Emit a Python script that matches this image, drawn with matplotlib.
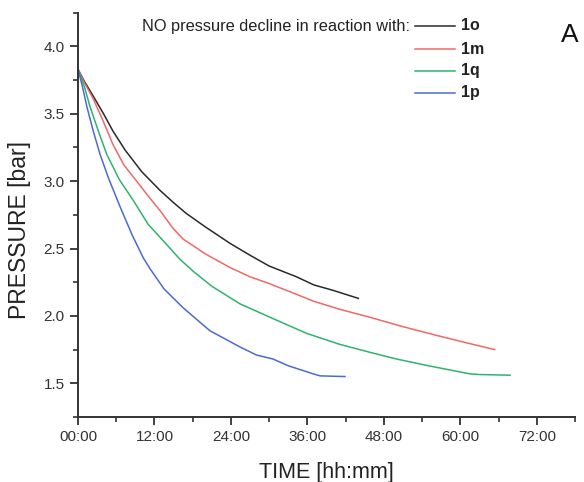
import matplotlib
matplotlib.use("Agg")
import matplotlib.pyplot as plt
from matplotlib.ticker import FuncFormatter, MultipleLocator

plt.rcParams['font.family'] = ['Liberation Sans', 'DejaVu Sans']

# Reaction time in hours, pressure in bar
t_1o = [0, 1, 2.4, 4.0, 5.5, 7.4, 10, 12.9, 15, 17.0, 20, 23.8, 27, 30, 34.3, 37, 40, 44]
p_1o = [3.83, 3.74, 3.63, 3.50, 3.37, 3.23, 3.07, 2.93, 2.84, 2.76, 2.66, 2.54, 2.45, 2.37, 2.29, 2.23, 2.19, 2.13]

t_1m = [0, 1, 2.4, 4, 5.5, 7.2, 9.2, 11, 12.9, 14.9, 16.5, 20, 23.8, 27, 30, 34.3, 36.9, 41, 45.8, 51, 56.3, 61, 65.4]
p_1m = [3.83, 3.73, 3.61, 3.44, 3.27, 3.12, 3.00, 2.89, 2.78, 2.65, 2.57, 2.46, 2.36, 2.29, 2.24, 2.16, 2.11, 2.05, 1.99, 1.92, 1.855, 1.80, 1.75]

t_1q = [0, 1, 1.9, 3.2, 4.5, 6.5, 8.7, 11, 13.9, 16, 18.1, 21, 25.4, 30.6, 35.9, 41, 45.8, 50, 55, 61.5, 63, 67.8]
p_1q = [3.83, 3.70, 3.55, 3.37, 3.20, 3.01, 2.855, 2.68, 2.53, 2.42, 2.33, 2.22, 2.09, 1.98, 1.87, 1.79, 1.73, 1.68, 1.63, 1.57, 1.565, 1.56]

t_1p = [0, 0.7, 1.4, 2.4, 3.45, 4.8, 6.6, 8.5, 10.25, 11.3, 13.5, 16.5, 20.7, 25.4, 28, 30.6, 33, 36.9, 38, 41.9]
p_1p = [3.83, 3.70, 3.55, 3.37, 3.20, 3.02, 2.81, 2.60, 2.43, 2.35, 2.20, 2.06, 1.89, 1.77, 1.71, 1.68, 1.63, 1.57, 1.555, 1.55]

series = [
    ("1o", t_1o, p_1o, "#2a2a2a"),
    ("1m", t_1m, p_1m, "#f06868"),
    ("1q", t_1q, p_1q, "#2fb36e"),
    ("1p", t_1p, p_1p, "#4a6cd0"),
]

fig = plt.figure(figsize=(5.84, 4.82), dpi=100)
ax = fig.add_axes([0.1336, 0.1349, 0.851, 0.8388])

for name, t, p, c in series:
    ax.plot(t, p, color=c, lw=1.1, solid_joinstyle="round")

ax.set_xlim(0, 78)
ax.set_ylim(1.25, 4.25)

ax.xaxis.set_major_locator(MultipleLocator(12))
ax.xaxis.set_minor_locator(MultipleLocator(6))
ax.yaxis.set_major_locator(MultipleLocator(0.5))
ax.yaxis.set_minor_locator(MultipleLocator(0.25))
ax.xaxis.set_major_formatter(FuncFormatter(lambda v, pos: f"{int(round(v)):02d}:00"))
ax.yaxis.set_major_formatter(FuncFormatter(lambda v, pos: f"{v:.1f}"))

for side in ("top", "right"):
    ax.spines[side].set_visible(False)
for side in ("left", "bottom"):
    ax.spines[side].set_linewidth(1.4)
    ax.spines[side].set_color("#333333")

ax.tick_params(which="major", direction="out", length=6, width=1.3, colors="#333333",
               labelsize=11, labelcolor="#333333")
ax.tick_params(which="minor", direction="out", length=3.5, width=1.2, colors="#333333")

ax.set_xlabel("TIME [hh:mm]", fontsize=15.5, color="#222222", labelpad=13)

# Vertical axis title, placed slightly below the axis centre
fig.text(20 / 584, 1 - 230 / 482, "PRESSURE [bar]", rotation=90, ha="center",
         va="center", fontsize=16.5, color="#222222")

# Legend drawn by hand: title text followed by stacked line samples
fig.text(410 / 584, 1 - 26 / 482, "NO pressure decline in reaction with:",
         ha="right", va="center", fontsize=11.8, color="#222222")
row_y = [26, 49, 71, 93]
for (name, t, p, c), yy in zip(series, row_y):
    yf = 1 - yy / 482
    fig.add_artist(plt.Line2D([415 / 584, 455 / 584], [yf, yf], color=c, lw=1.1,
                              transform=fig.transFigure))
    fig.text(461 / 584, yf, name, ha="left", va="center", fontsize=11.5,
             fontweight="bold", color="#222222")

fig.text(570 / 584, 1 - 35 / 482, "A", ha="center", va="center", fontsize=19,
         color="#111111")

fig.savefig("out.png", dpi=100)
